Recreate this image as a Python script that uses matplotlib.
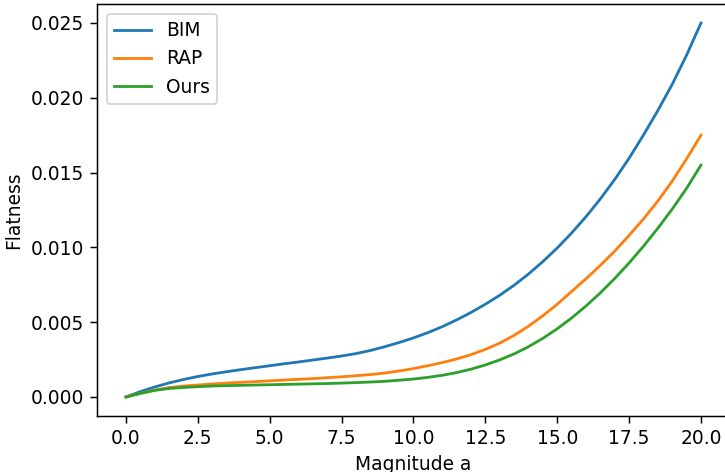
import matplotlib
matplotlib.use("Agg")
import matplotlib.pyplot as plt

# magnitude values, every 0.5
magnitude = [0, 0.5, 1, 1.5, 2, 2.5, 3, 3.5, 4, 4.5, 5, 5.5, 6, 6.5, 7, 7.5, 8, 8.5, 9, 9.5, 10,
             10.5, 11, 11.5, 12, 12.5, 13, 13.5, 14, 14.5, 15, 15.5, 16, 16.5, 17, 17.5, 18, 18.5, 19, 19.5, 20]

bim = [0.0, 0.00036, 0.00067, 0.00094, 0.00117, 0.00137, 0.00154, 0.00169, 0.00183, 0.00196, 0.00209,
       0.00222, 0.00234, 0.00247, 0.0026, 0.00274, 0.0029, 0.00311, 0.00336, 0.00364, 0.00395,
       0.0043, 0.0047, 0.00515, 0.00565, 0.0062, 0.0068, 0.00747, 0.00822, 0.00905, 0.00996,
       0.01096, 0.01205, 0.01324, 0.01454, 0.01596, 0.01751, 0.01915, 0.0209, 0.02285, 0.0250]
rap = [0.0, 0.00025, 0.00047, 0.00063, 0.00073, 0.0008, 0.00087, 0.00093, 0.00098, 0.00103, 0.00108,
       0.00113, 0.00118, 0.00123, 0.00129, 0.00135, 0.00142, 0.0015, 0.0016, 0.00174, 0.0019,
       0.00209, 0.0023, 0.00254, 0.00283, 0.00318, 0.0036, 0.00412, 0.00473, 0.00543, 0.0062,
       0.00705, 0.0079, 0.0088, 0.00975, 0.0108, 0.0119, 0.0131, 0.01443, 0.01592, 0.0175]
ours = [0.0, 0.00024, 0.00044, 0.00057, 0.00064, 0.00069, 0.00073, 0.00076, 0.00078, 0.0008, 0.00082,
        0.00084, 0.00086, 0.00088, 0.0009, 0.00093, 0.00096, 0.001, 0.00105, 0.00112, 0.0012,
        0.00131, 0.00145, 0.00163, 0.00186, 0.00214, 0.00248, 0.00288, 0.00336, 0.00392, 0.00456,
        0.00528, 0.00608, 0.00696, 0.00792, 0.00896, 0.01008, 0.01128, 0.01256, 0.01395, 0.0155]

fig = plt.figure(figsize=(725 / 134, 472 / 134), dpi=134)
ax = fig.add_axes([0.1341, 0.1193, 0.8724, 0.8716])

ax.plot(magnitude, bim, label='BIM')
ax.plot(magnitude, rap, label='RAP')
ax.plot(magnitude, ours, label='Ours')

ax.set_xticks([0, 2.5, 5, 7.5, 10, 12.5, 15, 17.5, 20])
ax.set_xlabel('Magnitude a')
ax.set_ylabel('Flatness')
ax.legend(loc='upper left')

fig.savefig('out.png', dpi=134)
